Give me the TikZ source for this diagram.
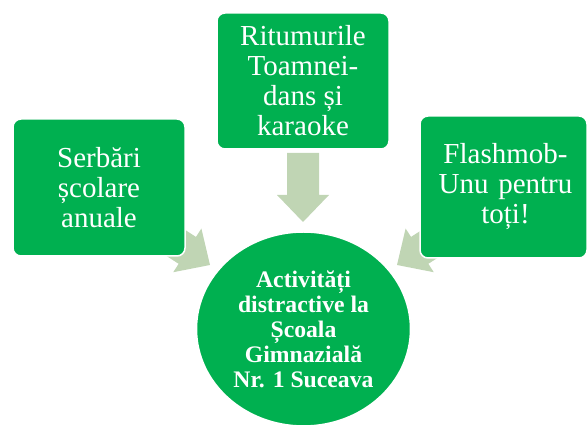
\documentclass[tikz,border=0pt]{standalone}
\usepackage{fontspec}
\setmainfont{Liberation Serif}
\usetikzlibrary{shapes.geometric}
\definecolor{boxgreen}{RGB}{0,176,80}
\definecolor{arrowgreen}{RGB}{192,213,180}
\tikzset{
  gbox/.style={draw=white, line width=1.5pt, fill=boxgreen, rounded corners=8pt,
    text=white, align=center, inner sep=0pt, font=\fontsize{29}{30}\selectfont},
  gcirc/.style={ellipse, draw=white, line width=1.5pt, fill=boxgreen, inner sep=0pt,
    text=white, align=center, font=\bfseries\fontsize{23.7}{25}\selectfont},
  arrowfill/.style={fill=arrowgreen}
}
\newcommand\blockarr[2]{\fill[arrowfill, shift={(#1)}, rotate=#2]
  (0,0) -- (-27,26) -- (-27,16) -- (-69,16) -- (-69,-16) -- (-27,-16) -- (-27,-26) -- cycle;}
\begin{document}
\begin{tikzpicture}[x=1pt,y=1pt]
\useasboundingbox (0,0) rectangle (587,425);
% arrow tips
\coordinate (tipT) at (303,203);
\coordinate (tipL) at (210,160);
\coordinate (tipR) at (397,160);
\blockarr{tipT}{-90}
\blockarr{tipL}{-32.8}
\blockarr{tipR}{-147.2}
% boxes
\node[gbox, minimum width=172pt, minimum height=136pt] (top) at (303,344)
  {Ritumurile\\Toamnei-\\dans și\\karaoke};
\node[gbox, minimum width=172pt, minimum height=137pt] (left) at (99,237.5)
  {Serbări\\școlare\\anuale};
\node[gbox, minimum width=167pt, minimum height=142pt, text width=167pt] (right) at (503.5,238)
  {\hspace*{4pt}Flashmob-\\\hspace*{4pt}Unu pentru\\\hspace*{4pt}toți!};
% central ellipse
\node[gcirc, minimum width=214pt, minimum height=194pt] (center) at (303.5,96)
  {Activități\\distractive la\\Școala\\Gimnazială\\Nr. 1 Suceava};
\end{tikzpicture}
\end{document}
